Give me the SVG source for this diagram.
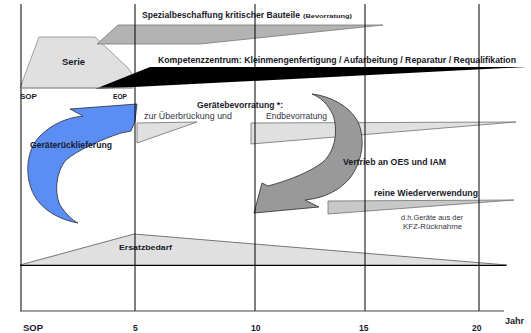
<svg xmlns="http://www.w3.org/2000/svg" width="531" height="333" viewBox="0 0 531 333">
<style>
.t{font-family:"Liberation Sans",Arial,sans-serif;fill:#1a1a2a;font-weight:bold}
.n{font-family:"Liberation Sans",Arial,sans-serif;fill:#333344}
.grid{stroke:#000;stroke-width:1;fill:none}
.lw{fill:#e0e0e0;stroke:#707070;stroke-width:0.8}
</style>
<rect width="531" height="333" fill="#fff"/>
<g id="shapes">
  <g id="serie">
    <polygon points="20,88 39,37 95,37 128,68 132,74 132,88" fill="#e0e0e0" stroke="#8a8a8a" stroke-width="0.8"/>
    <text class="t" x="62" y="65" font-size="8.5" textLength="23" lengthAdjust="spacingAndGlyphs">Serie</text>
  </g>
  <g id="spezial">
    <polygon points="97,44 118,25 383,25 200,44" fill="#b3b3b3" stroke="#7a7a7a" stroke-width="0.8"/>
    <text class="t" x="142" y="18" font-size="8.4" textLength="158" lengthAdjust="spacingAndGlyphs">Spezialbeschaffung kritischer Bauteile</text>
    <text class="t" x="303" y="18" font-size="6" textLength="49" lengthAdjust="spacingAndGlyphs">(Bevorratung)</text>
  </g>
  <g id="kompetenz">
    <polygon points="95,89 150,67 527,67" fill="#000"/>
    <text class="t" x="158" y="63" font-size="8.4" textLength="358" lengthAdjust="spacingAndGlyphs">Kompetenzzentrum: Kleinmengenfertigung / Aufarbeitung / Reparatur / Requalifikation</text>
  </g>
  <g id="ersatz">
    <polygon points="20,265 134,234 507,265" fill="#e0e0e0" stroke="#555" stroke-width="0.8"/>
    <text class="t" x="119" y="250" font-size="7.5" textLength="53" lengthAdjust="spacingAndGlyphs">Ersatzbedarf</text>
  </g>
  <g id="bevorratung">
    <polygon class="lw" points="137,123 197,122 137,143"/>
    <polygon class="lw" points="251,123 516,122 251,144"/>
    <text class="t" x="197" y="108" font-size="8.5" textLength="86" lengthAdjust="spacingAndGlyphs">Gerätebevorratung *:</text>
    <text class="n" x="144" y="119" font-size="8.5" textLength="88" lengthAdjust="spacingAndGlyphs">zur Überbrückung  und</text>
    <text class="n" x="266" y="119" font-size="8.5" textLength="61" lengthAdjust="spacingAndGlyphs">Endbevorratung</text>
  </g>
  <g id="wiederverwendung">
    <polygon points="328,201 514,200 328,214" fill="#c8c8c8" stroke="#707070" stroke-width="0.8"/>
    <text class="t" x="374" y="196" font-size="8.5" textLength="104" lengthAdjust="spacingAndGlyphs">reine Wiederverwendung</text>
    <text class="n" x="401" y="219.5" font-size="6.5" textLength="62" lengthAdjust="spacingAndGlyphs">d.h.Geräte aus der</text>
    <text class="n" x="403" y="228.5" font-size="6.5" textLength="59" lengthAdjust="spacingAndGlyphs">KFZ-Rücknahme</text>
  </g>
  <g id="ruecklieferung">
    <path d="M137,104 L135,121 L131,131 L121,133 C100,140 78,150 66,160 C56,172 54,192 60,205 C66,214 72,220 78,223 C60,220 42,210 34,195 C24,176 26,150 40,136 C52,124 66,118 83,116 L70,109 L137,104 Z" fill="#5b8ef5" stroke="#2a2a3a" stroke-width="0.8"/>
    <text class="t" x="30" y="148" font-size="8.5" textLength="82" lengthAdjust="spacingAndGlyphs">Geräterücklieferung</text>
  </g>
  <g id="vertrieb">
    <path d="M312,94 C330,96 350,106 358,122 C366,140 362,162 350,178 C340,190 325,198 305,200 L319,207 L254,213 L262,183 L268,186 C290,180 310,172 323,162 C336,150 338,130 333,115 C328,104 320,97 312,94 Z" fill="#999" stroke="#2a2a2a" stroke-width="0.8"/>
    <text class="t" x="343" y="165" font-size="8.5" textLength="103" lengthAdjust="spacingAndGlyphs">Vertrieb an OES und IAM</text>
  </g>
</g>
<g id="connectors">
  <line class="grid" x1="21" y1="4" x2="21" y2="311"/>
  <line class="grid" x1="135" y1="4" x2="135" y2="311"/>
  <line class="grid" x1="255" y1="4" x2="255" y2="311"/>
  <line class="grid" x1="365" y1="4" x2="365" y2="311"/>
  <line class="grid" x1="479" y1="4" x2="479" y2="311"/>
  <line x1="20" y1="88" x2="135" y2="88" stroke="#999" stroke-width="1"/>
  <line class="grid" x1="20" y1="265.5" x2="506" y2="265.5"/>
  <line x1="20" y1="311" x2="504" y2="311" stroke="#444" stroke-width="1.2"/>
</g>
<g id="labels">
  <text class="t" x="20" y="99" font-size="7" textLength="17" lengthAdjust="spacingAndGlyphs">SOP</text>
  <text class="t" x="113" y="99" font-size="7" textLength="14" lengthAdjust="spacingAndGlyphs">EOP</text>
  <text class="t" x="23" y="331" font-size="8.5" textLength="20" lengthAdjust="spacingAndGlyphs">SOP</text>
  <text class="t" x="133" y="331" font-size="8.5">5</text>
  <text class="t" x="251" y="331" font-size="8.5">10</text>
  <text class="t" x="359" y="331" font-size="8.5">15</text>
  <text class="t" x="472" y="331" font-size="8.5">20</text>
  <text class="t" x="505" y="324" font-size="9">Jahr</text>
</g>
</svg>
